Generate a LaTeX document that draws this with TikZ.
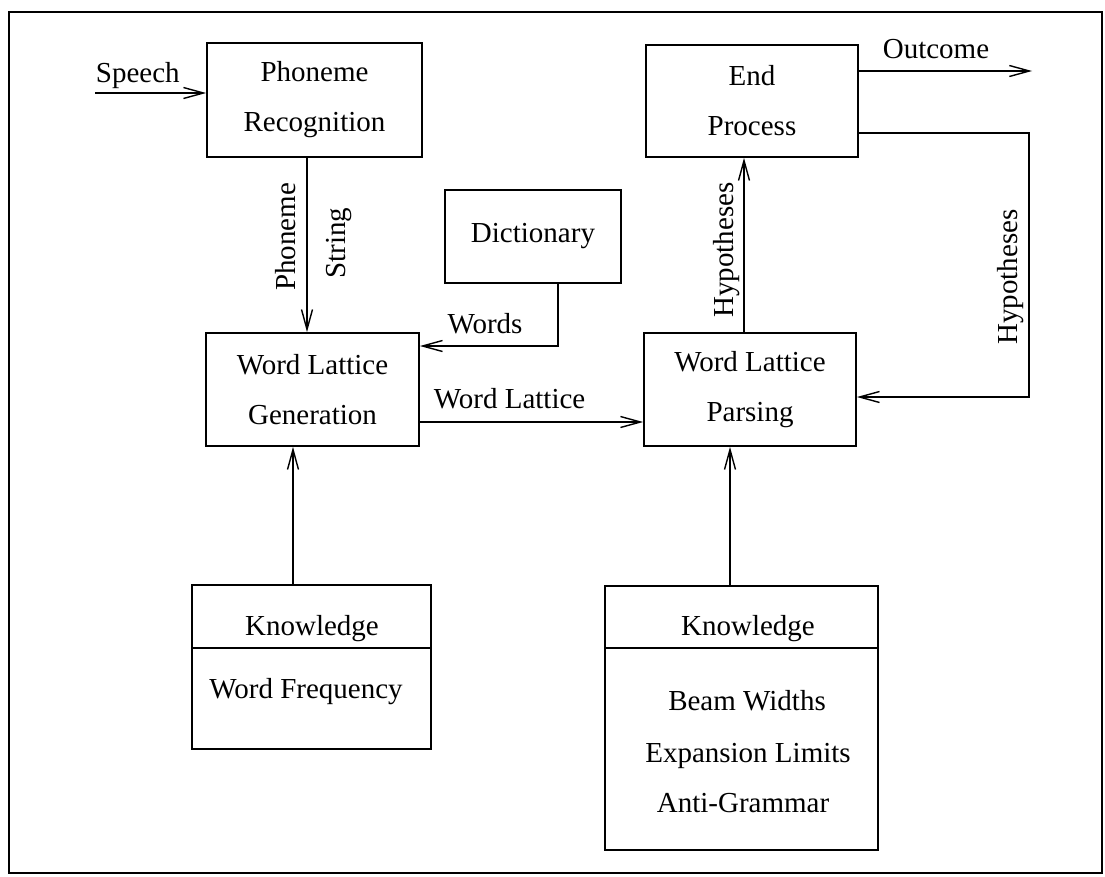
\documentclass[tikz,border=0pt]{standalone}
\usepackage{fontspec}
\setmainfont{Liberation Serif}
\usetikzlibrary{arrows.meta}
\begin{document}
\begin{tikzpicture}[x=1pt, y=-1pt, line width=1.8pt,
  font=\fontsize{29}{50}\selectfont,
  >={Straight Barb[length=20pt,width=11pt,line width=1.4pt]},
  blk/.style={draw, align=center, inner sep=0pt},
  lbl/.style={anchor=base, inner sep=0pt}]

\useasboundingbox (0,0) rectangle (1105,876);

% frame
\draw (9,12) rectangle (1102,873);

% boxes
\node[blk, minimum width=215pt, minimum height=114pt] (phon) at (314.5,100) {Phoneme\\Recognition};
\node[blk, minimum width=212pt, minimum height=112pt] (endp) at (752,101) {End\\Process};
\node[blk, minimum width=176pt, minimum height=93pt] (dict) at (533,236.5) {Dictionary};
\node[blk, minimum width=213pt, minimum height=113pt] (wlg) at (312.5,389.5) {Word Lattice\\Generation};
\node[blk, minimum width=212pt, minimum height=113pt] (wlp) at (750,389.5) {Word Lattice\\Parsing};

% knowledge boxes
\node[blk, minimum width=239pt, minimum height=164pt] (knl) at (311.5,667) {};
\draw (knl.west |- 0,648) -- (knl.east |- 0,648);
\node[lbl] (knlh) at (312,635) {Knowledge};
\node[lbl] (knlb) at (306,698) {Word Frequency};

\node[blk, minimum width=273pt, minimum height=264pt] (knr) at (741.5,718) {};
\draw (knr.west |- 0,648) -- (knr.east |- 0,648);
\node[lbl] (knrh) at (748,635) {Knowledge};
\node[lbl] (knr1) at (747,710) {Beam Widths};
\node[lbl] (knr2) at (748,762) {Expansion Limits};
\node[lbl] (knr3) at (743,812) {Anti-Grammar};

% input and output
\coordinate (spin) at (95,93);
\node[lbl, anchor=base west] (speech) at (95,82) {Speech};
\draw[->] (spin) -- (phon.west |- spin);

\coordinate (outc) at (1032,71);
\node[lbl] (outcome) at (936,58) {Outcome};
\draw[->] (endp.east |- outc) -- (outc);

% connectors
\draw[->] (phon.south -| 307,0) -- (wlg.north -| 307,0);
\node[lbl, rotate=90] (phlab) at (295,237) {Phoneme};
\node[lbl, rotate=90] (stlab) at (345,243) {String};

\draw[->] (dict.south -| 558,0) |- (wlg.east |- 0,346);
\node[lbl] (words) at (485,333) {Words};

\draw[->] (wlg.east |- 0,422) -- (wlp.west |- 0,422);
\node[lbl, anchor=base west] (wlat) at (433,408) {Word Lattice};

\draw[->] (wlp.north -| 744,0) -- (endp.south -| 744,0);
\node[lbl, rotate=90] (hyp1) at (733,250) {Hypotheses};

\coordinate (loop) at (1029,397);
\draw[->] (endp.east |- 0,133) -| (loop) -- (wlp.east |- loop);
\node[lbl, rotate=90] (hyp2) at (1017,277) {Hypotheses};

\draw[->] (knl.north -| 293,0) -- (wlg.south -| 293,0);
\draw[->] (knr.north -| 730,0) -- (wlp.south -| 730,0);

\end{tikzpicture}
\end{document}
